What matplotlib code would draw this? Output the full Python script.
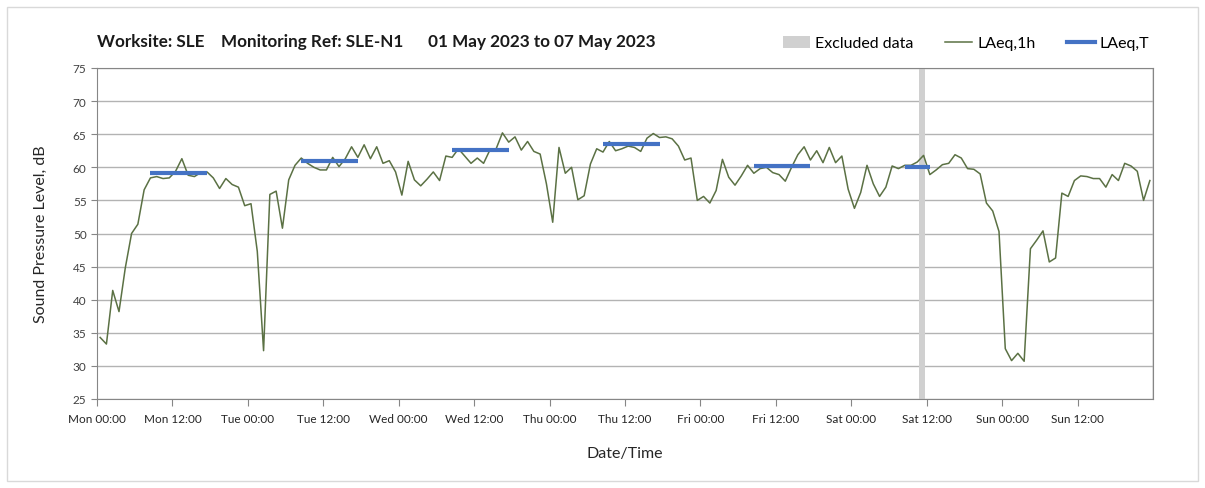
import numpy as np
import matplotlib
matplotlib.use("Agg")
from matplotlib import pyplot as plt
from matplotlib.patches import Rectangle
from matplotlib.lines import Line2D
from matplotlib.patches import Patch

plt.rcParams['font.family'] = ['Lato', 'DejaVu Sans']

# Hourly LAeq,1h values, Mon 00:00 -> Sun 23:00 (one per hour)
laeq_1h = [
    34.3, 33.3, 41.4, 38.2, 44.8, 50.0, 51.4, 56.6, 58.4, 58.6, 58.3, 58.4,
    59.4, 61.3, 58.8, 58.6, 59.2, 59.3, 58.4, 56.8, 58.3, 57.4, 57.0, 54.2,
    54.5, 47.3, 32.3, 55.9, 56.4, 50.8, 58.1, 60.3, 61.4, 60.6, 60.0, 59.6,
    59.6, 61.5, 60.1, 61.3, 63.1, 61.5, 63.4, 61.3, 63.1, 60.6, 61.0, 59.3,
    55.8, 60.9, 58.1, 57.2, 58.2, 59.3, 58.0, 61.7, 61.5, 62.8, 61.7, 60.6,
    61.4, 60.6, 62.6, 62.8, 65.2, 63.8, 64.6, 62.6, 63.9, 62.4, 62.0, 57.5,
    51.7, 63.0, 59.1, 60.0, 55.1, 55.7, 60.5, 62.8, 62.3, 63.9, 62.5, 62.8,
    63.2, 63.0, 62.4, 64.4, 65.1, 64.5, 64.6, 64.3, 63.2, 61.1, 61.4, 55.0,
    55.6, 54.6, 56.5, 61.2, 58.5, 57.3, 58.7, 60.3, 59.1, 59.8, 60.0, 59.2,
    58.9, 57.9, 60.0, 61.9, 63.1, 61.1, 62.5, 60.7, 63.0, 60.7, 61.7, 56.7,
    53.8, 56.2, 60.3, 57.5, 55.6, 57.0, 60.2, 59.8, 60.3, 60.3, 60.8, 61.8,
    58.9, 59.6, 60.4, 60.6, 61.9, 61.4, 59.8, 59.7, 59.0, 54.6, 53.4, 50.3,
    32.6, 30.8, 31.9, 30.7, 47.7, 49.0, 50.4, 45.7, 46.3, 56.1, 55.6, 58.0,
    58.7, 58.6, 58.3, 58.3, 57.0, 58.9, 58.0, 60.6, 60.2, 59.4, 55.0, 58.0,
]

# LAeq,T periods (start hour, end hour, level)
period_start = [8.5, 32.5, 56.5, 80.5, 104.5, 128.5]
period_end = [17.5, 41.5, 65.5, 89.5, 113.5, 132.5]
period_level = [59.2, 61.0, 62.6, 63.5, 60.2, 60.0]

# excluded data window (hours from Mon 00:00)
excluded = (130.8, 131.8)

tick_labels = ["Mon 00:00", "Mon 12:00", "Tue 00:00", "Tue 12:00", "Wed 00:00",
               "Wed 12:00", "Thu 00:00", "Thu 12:00", "Fri 00:00", "Fri 12:00",
               "Sat 00:00", "Sat 12:00", "Sun 00:00", "Sun 12:00"]

hours = np.arange(len(laeq_1h)) + 0.5

fig = plt.figure(figsize=(12.05, 4.89), dpi=100)
ax = fig.add_axes([97 / 1205, 89 / 489, (1153 - 97) / 1205, (400 - 69) / 489])

# outer chart border
fig.patches.append(Rectangle((7 / 1205, 7 / 489), 1191 / 1205, 474 / 489,
                             transform=fig.transFigure, fill=False,
                             edgecolor="#d9d9d9", linewidth=1))

ax.axvspan(excluded[0], excluded[1], color="#d0d0d0", lw=0, zorder=1)
ax.plot(hours, laeq_1h, color="#5b7144", lw=1.1, zorder=3)
for s, e, v in zip(period_start, period_end, period_level):
    ax.plot([s, e], [v, v], color="#4472c4", lw=3, solid_capstyle="butt", zorder=4)

ax.set_xlim(0, 168)
ax.set_ylim(25, 75)
ax.set_yticks(np.arange(25, 76, 5))
ax.set_xticks(np.arange(0, 168, 12))
ax.set_xticklabels(tick_labels)
ax.set_xticks(np.arange(0, 169, 24), minor=True)

ax.grid(axis="y", color="#b3b3b3", lw=1)
ax.grid(axis="x", which="minor", color="#dcdcdc", lw=1.2)
ax.set_axisbelow(True)

for sp in ax.spines.values():
    sp.set_color("#868686")
ax.tick_params(axis="x", which="major", length=5, color="#868686",
               labelsize=8.5, labelcolor="#262626", pad=5)
ax.tick_params(axis="x", which="minor", length=0)
ax.tick_params(axis="y", length=4, color="#868686", labelsize=8.5,
               labelcolor="#404040")

ax.set_xlabel("Date/Time", fontsize=11.5, color="#262626", labelpad=16)
ax.set_ylabel("Sound Pressure Level, dB", fontsize=11.5, color="#262626", labelpad=18)

fig.text(97 / 1205, 1 - 42 / 489,
         "Worksite: SLE    Monitoring Ref: SLE-N1      01 May 2023 to 07 May 2023",
         fontsize=12.3, fontweight="bold", color="#1a1a1a", va="center", ha="left")

handles = [Patch(facecolor="#d0d0d0", edgecolor="none"),
           Line2D([], [], color="#5b7144", lw=1.1),
           Line2D([], [], color="#4472c4", lw=3)]
fig.legend(handles, ["Excluded data", "LAeq,1h", "LAeq,T"], loc="center",
           bbox_to_anchor=(966 / 1205, 1 - 44 / 489), ncol=3, frameon=False,
           fontsize=11.5, handlelength=1.7, handleheight=0.8, columnspacing=2.0,
           handletextpad=0.3)

fig.savefig("out.png", dpi=100)
